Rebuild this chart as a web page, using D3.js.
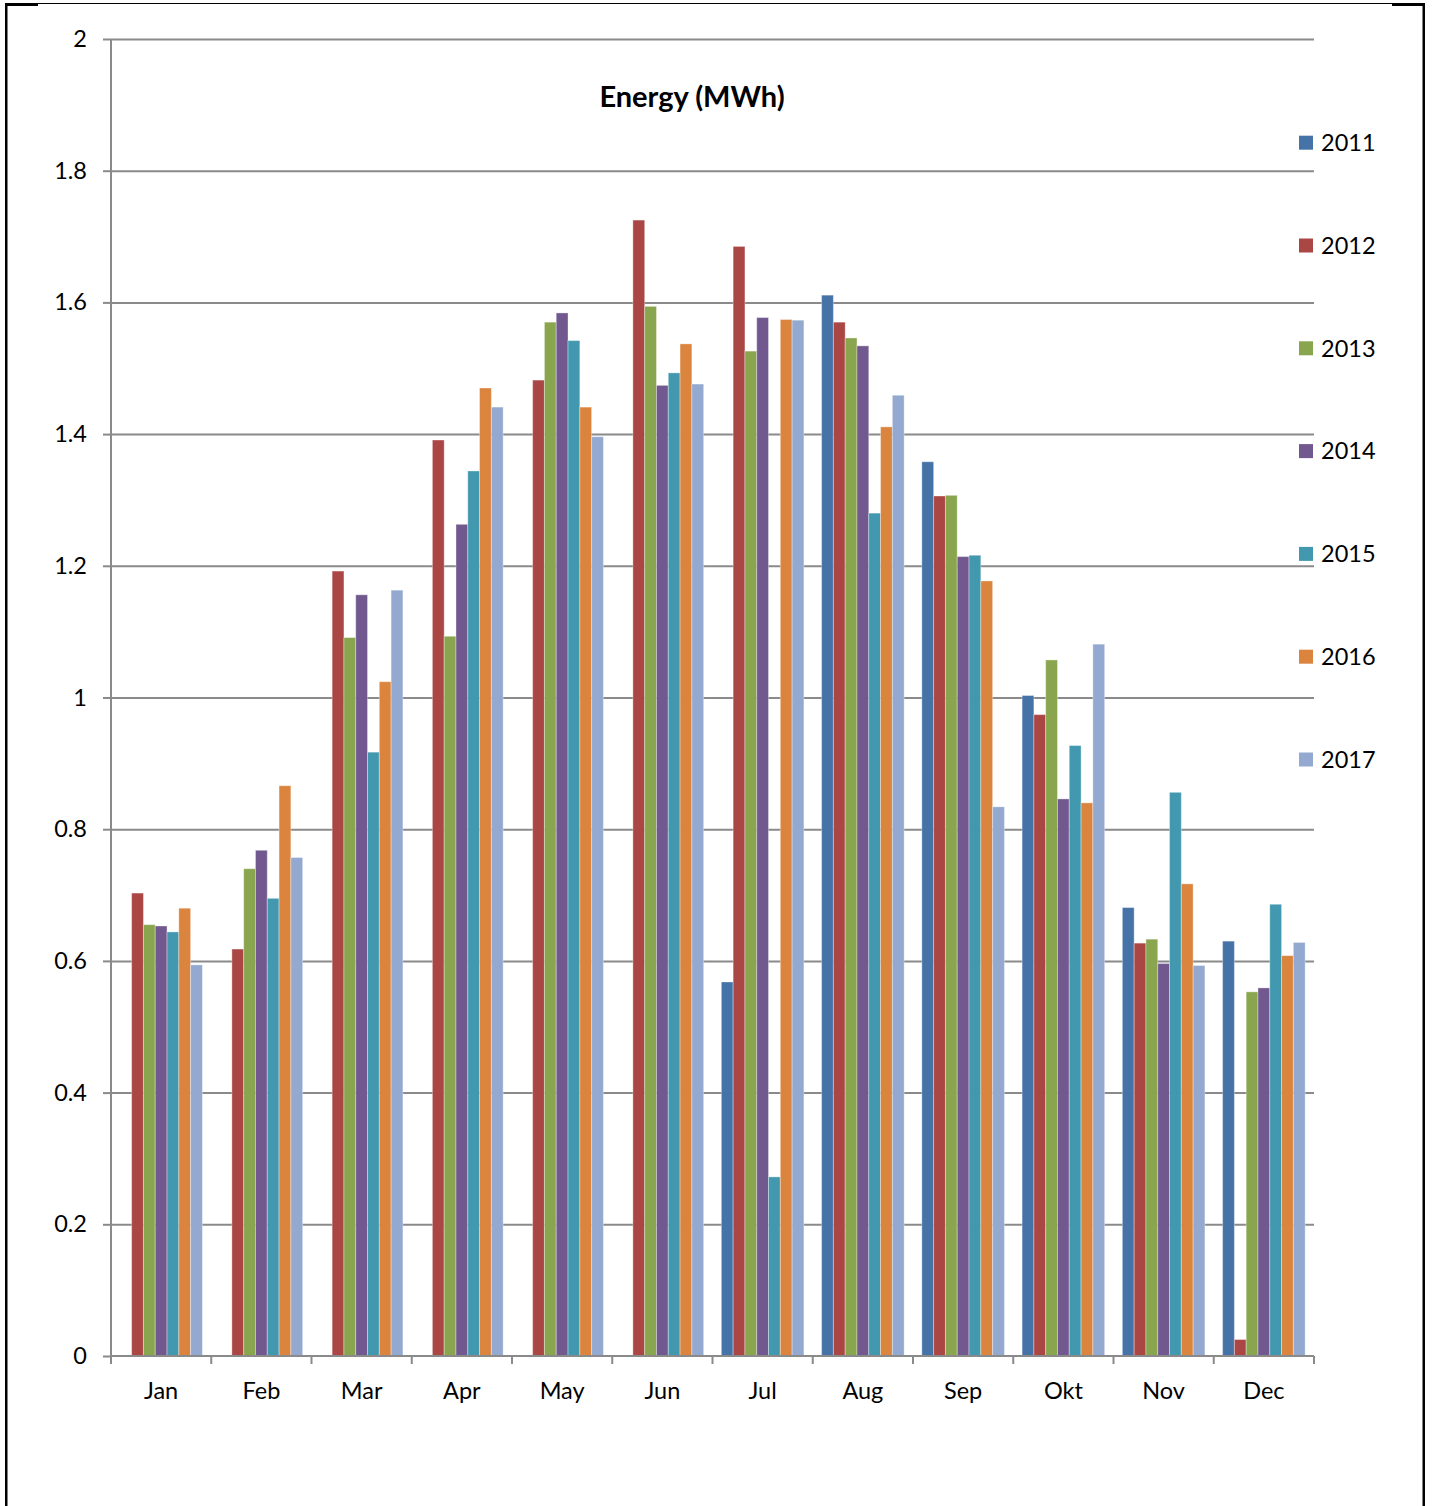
<!DOCTYPE html>
<html>
<head>
<meta charset="utf-8">
<script src="https://cdnjs.cloudflare.com/ajax/libs/d3/7.8.5/d3.min.js"></script>
<style>
  body { margin: 0; background: #fff; }
  svg { display: block; font-family: Lato, "Open Sans", sans-serif; }
</style>
</head>
<body>
<div id="chart"></div>
<script>
// months on the x axis
const months = ['Jan', 'Feb', 'Mar', 'Apr', 'May', 'Jun', 'Jul', 'Aug', 'Sep', 'Okt', 'Nov', 'Dec'];
const years = ['2011', '2012', '2013', '2014', '2015', '2016', '2017'];
const colors = ['#4572A7', '#AA4643', '#89A54E', '#71588F', '#4198AF', '#DB843D', '#93A9CF'];

// energy per month (MWh), null = no data
const y2011 = [null, null, null, null, null, null, 0.568, 1.611, 1.358, 1.003, 0.681, 0.630];
const y2012 = [0.703, 0.618, 1.192, 1.391, 1.482, 1.725, 1.685, 1.570, 1.306, 0.974, 0.627, 0.025];
const y2013 = [0.655, 0.740, 1.091, 1.093, 1.570, 1.594, 1.526, 1.546, 1.307, 1.057, 0.633, 0.553];
const y2014 = [0.653, 0.768, 1.156, 1.263, 1.584, 1.474, 1.577, 1.534, 1.214, 0.846, 0.596, 0.559];
const y2015 = [0.644, 0.695, 0.917, 1.344, 1.542, 1.493, 0.272, 1.280, 1.216, 0.927, 0.856, 0.686];
const y2016 = [0.680, 0.866, 1.024, 1.470, 1.441, 1.537, 1.574, 1.411, 1.177, 0.840, 0.717, 0.608];
const y2017 = [0.594, 0.757, 1.163, 1.441, 1.396, 1.476, 1.573, 1.459, 0.834, 1.081, 0.593, 0.628];
const seriesValues = [y2011, y2012, y2013, y2014, y2015, y2016, y2017];

const yTicks = [0, 0.2, 0.4, 0.6, 0.8, 1, 1.2, 1.4, 1.6, 1.8, 2];

const W = 1433, H = 1506;
const plot = { left: 111, right: 1314, top: 39, bottom: 1356 };
const gridColor = '#8a8a8a';
const fontSize = 23.5;

const svg = d3.select('#chart').append('svg')
  .attr('width', W)
  .attr('height', H);

// frame round the chart
svg.append('line').attr('x1', 5).attr('x2', 1425).attr('y1', 3.5).attr('y2', 3.5)
  .attr('stroke', '#000').attr('stroke-width', 1);
svg.append('rect').attr('x', 5).attr('y', 3).attr('width', 33).attr('height', 3).attr('fill', '#000');
svg.append('rect').attr('x', 1392).attr('y', 3).attr('width', 33).attr('height', 3).attr('fill', '#000');
svg.append('rect').attr('x', 5).attr('y', 3).attr('width', 2.5).attr('height', H).attr('fill', '#000');
svg.append('rect').attr('x', 1422.5).attr('y', 3).attr('width', 2.5).attr('height', H).attr('fill', '#000');

const x0 = d3.scaleBand()
  .domain(months)
  .range([plot.left, plot.right]);

const x1 = d3.scaleBand()
  .domain(years)
  .range([0, x0.bandwidth()])
  .paddingInner(0)
  .paddingOuter(0.75);

const y = d3.scaleLinear()
  .domain([0, 2])
  .range([plot.bottom, plot.top]);

// gridlines with y ticks
const yAxis = svg.append('g')
  .attr('transform', `translate(${plot.left},0)`)
  .call(d3.axisLeft(y).tickValues(yTicks).tickSize(8).tickPadding(16)
    .tickFormat(d => d3.format('~g')(d)));
yAxis.select('.domain').remove();
yAxis.selectAll('.tick line').attr('stroke', gridColor).attr('stroke-width', 2);
yAxis.selectAll('.tick').filter(d => d !== 0).append('line')
  .attr('x1', 0).attr('x2', plot.right - plot.left)
  .attr('stroke', gridColor).attr('stroke-width', 2);
yAxis.selectAll('.tick text')
  .attr('font-size', fontSize).attr('fill', '#000')
  .attr('font-family', 'Lato, "Open Sans", sans-serif');

// bars
const groups = svg.append('g').selectAll('g')
  .data(years)
  .join('g')
  .attr('fill', (d, i) => colors[i]);

groups.selectAll('rect')
  .data((yr, i) => months.map((m, j) => ({ month: m, year: yr, value: seriesValues[i][j] }))
    .filter(d => d.value != null))
  .join('rect')
  .attr('x', d => x0(d.month) + x1(d.year))
  .attr('y', d => y(d.value))
  .attr('width', x1.bandwidth())
  .attr('height', d => y(0) - y(d.value))
  .attr('stroke', 'rgba(255,255,255,0.35)')
  .attr('stroke-width', 1);

// y axis line
svg.append('line')
  .attr('x1', plot.left).attr('x2', plot.left)
  .attr('y1', plot.top).attr('y2', plot.bottom)
  .attr('stroke', gridColor).attr('stroke-width', 2);

// x axis with ticks at category borders
svg.append('line')
  .attr('x1', plot.left).attr('x2', plot.right)
  .attr('y1', plot.bottom).attr('y2', plot.bottom)
  .attr('stroke', gridColor).attr('stroke-width', 2);

const borders = months.map(m => x0(m)).concat([plot.right]);
svg.append('g').selectAll('line')
  .data(borders)
  .join('line')
  .attr('x1', d => d).attr('x2', d => d)
  .attr('y1', plot.bottom).attr('y2', plot.bottom + 8)
  .attr('stroke', gridColor).attr('stroke-width', 2);

svg.append('g').selectAll('text')
  .data(months)
  .join('text')
  .attr('x', d => x0(d) + x0.bandwidth() / 2)
  .attr('y', 1399)
  .attr('text-anchor', 'middle')
  .attr('font-size', fontSize)
  .text(d => d);

// title
svg.append('text')
  .attr('x', 692)
  .attr('y', 107)
  .attr('text-anchor', 'middle')
  .attr('font-size', 29)
  .attr('font-weight', 'bold')
  .text('Energy (MWh)');

// legend
const legend = svg.append('g').selectAll('g')
  .data(years)
  .join('g')
  .attr('transform', (d, i) => `translate(1299,${142.7 + i * 102.8})`);

legend.append('rect')
  .attr('x', 0).attr('y', -7)
  .attr('width', 14).attr('height', 14)
  .attr('fill', (d, i) => colors[i]);

legend.append('text')
  .attr('x', 22)
  .attr('y', 0)
  .attr('dy', '0.35em')
  .attr('font-size', fontSize)
  .text(d => d);
</script>
</body>
</html>
